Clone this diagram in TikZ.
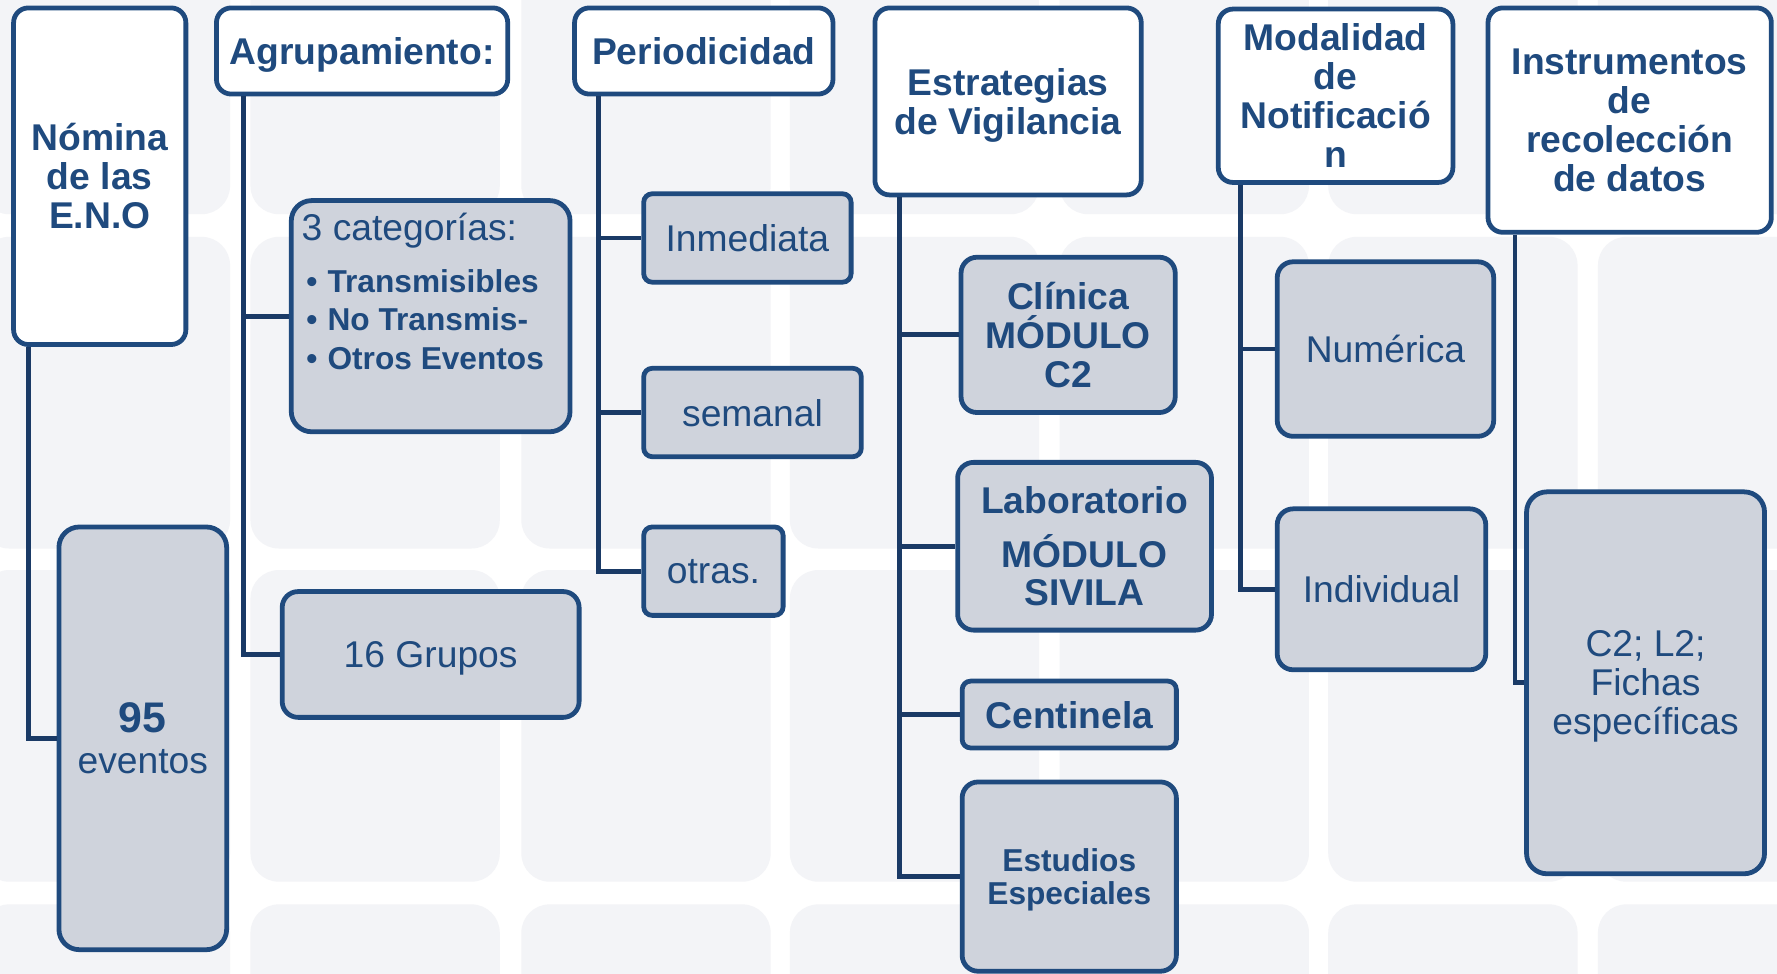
\documentclass[tikz,border=0pt]{standalone}
\usepackage{fontspec}
\setmainfont{Liberation Sans}

\definecolor{enoblue}{RGB}{31,74,126}
\definecolor{enonavy}{RGB}{26,58,102}
\definecolor{enogray}{RGB}{207,211,220}
\definecolor{enotile}{RGB}{243,244,247}

\tikzset{
  head/.style={draw=enoblue, line width=2.4pt, fill=white, rounded corners=2.6mm,
    align=center, text=enoblue, inner sep=0pt, text depth=0pt,
    font=\fontsize{18.7}{19.6}\selectfont\bfseries},
  leaf/.style={draw=enoblue, line width=2.4pt, fill=enogray, rounded corners=2.8mm,
    align=center, text=enoblue, inner sep=0pt, text depth=0pt,
    font=\fontsize{18.7}{19.6}\selectfont},
  bigleaf/.style={leaf, rounded corners=3.6mm},
  thin/.style={leaf, rounded corners=1.5mm},
  link/.style={draw=enonavy, line width=2.4pt},
  tile/.style={fill=enotile, rounded corners=5mm},
}

\begin{document}
\begin{tikzpicture}[x=0.2mm, y=-0.2mm]
\useasboundingbox (0,0) rectangle (1568,859);
% background tiles
\begin{scope}
\clip (0,0) rectangle (1568,859);
\fill[white] (0,0) rectangle (1568,859);
\foreach \x in {-17,221,460,697,935,1172,1410}
  \foreach \y in {-86,209,503,798}
    \fill[tile] (\x,\y) rectangle ++(220,275);
\end{scope}

% headers
\node[head, minimum width=30.4mm, minimum height=59.4mm] (nom) at (88,155.5) {Nómina\\de las\\E.N.O};
\node[head, minimum width=51.4mm, minimum height=15.2mm] (agr) at (319.5,45) {Agrupamiento:};
\node[head, minimum width=45.6mm, minimum height=15.2mm] (per) at (621,45) {Periodicidad};
\node[head, minimum width=47mm, minimum height=33mm] (est) at (889.5,89.5) {Estrategias\\de Vigilancia};
\node[head, minimum width=41.4mm, minimum height=30.6mm] (mod) at (1178.5,84.5) {Modalidad\\de\\Notificació\\n};
\node[head, minimum width=50mm, minimum height=39.6mm] (ins) at (1438,106) {Instrumentos\\de\\recolección\\de datos};

% Nomina
\node[bigleaf, minimum width=29.6mm, minimum height=74.6mm] (ev) at (126,651.5)
  {{\fontsize{21.5}{21}\selectfont\bfseries 95}\\[1pt]eventos};

% Agrupamiento
\node[bigleaf, minimum width=49.2mm, minimum height=40.8mm] (cat) at (380,279) {};
\node[anchor=north west, align=left, text=enoblue, inner sep=0pt,
  font=\fontsize{15.9}{19.4}\selectfont\bfseries] (catx) at ([shift={(11,13)}]cat.north west)
  {{\mdseries\fontsize{18.7}{19.6}\selectfont 3 categorías:}\\[6.5pt]
   \hspace{0.8mm}\textbullet\hspace{1.8mm}Transmisibles\\
   \hspace{0.8mm}\textbullet\hspace{1.8mm}No Transmis-\\
   \hspace{0.8mm}\textbullet\hspace{1.8mm}Otros Eventos};
\node[leaf, minimum width=52.4mm, minimum height=22.2mm] (grp) at (380,577.5) {16 Grupos};

% Periodicidad
\node[thin, minimum width=36.6mm, minimum height=15.6mm] (inm) at (659.5,210) {Inmediata};
\node[thin, minimum width=38.4mm, minimum height=15.6mm] (sem) at (664,364) {semanal};
\node[thin, minimum width=24.6mm, minimum height=15.6mm] (otr) at (629.5,504) {otras.};

% Estrategias
\node[leaf, font=\fontsize{18.7}{19.4}\selectfont\bfseries, minimum width=37.8mm, minimum height=27.4mm] (cli) at (942.5,295.5) {Clínica\\MÓDULO\\C2};
\node[leaf, font=\fontsize{18.7}{19}\selectfont\bfseries, minimum width=44.8mm, minimum height=29.6mm] (lab) at (957,482) {Laboratorio\\[8pt]MÓDULO\\SIVILA};
\node[thin, font=\fontsize{18.7}{19.6}\selectfont\bfseries, minimum width=37.8mm, minimum height=11.8mm] (cen) at (943.5,630.5) {Centinela};
\node[leaf, font=\fontsize{15.9}{16.5}\selectfont\bfseries, minimum width=37.8mm, minimum height=33.4mm] (esp) at (943.5,773.5) {Estudios\\Especiales};

% Modalidad
\node[leaf, minimum width=38.2mm, minimum height=30.8mm] (num) at (1222.5,308) {Numérica};
\node[leaf, minimum width=36.8mm, minimum height=28.4mm] (ind) at (1219,520) {Individual};

% Instrumentos
\node[bigleaf, minimum width=42mm, minimum height=67.4mm] (fic) at (1452,602.5) {C2; L2;\\Fichas\\específicas};

% connectors
\draw[link] (nom.south west) ++(15,0) |- (ev.west);
\foreach \c in {cat,grp}
  \draw[link] (agr.south west) ++(26,0) |- (\c.west);
\foreach \c in {inm,sem,otr}
  \draw[link] (per.south west) ++(23,0) |- (\c.west);
\foreach \c in {cli,lab,cen,esp}
  \draw[link] (est.south west) ++(24,0) |- (\c.west);
\foreach \c in {num,ind}
  \draw[link] (mod.south west) ++(22,0) |- (\c.west);
\draw[link] (ins.south west) ++(26,0) |- (fic.west);
\end{tikzpicture}
\end{document}
